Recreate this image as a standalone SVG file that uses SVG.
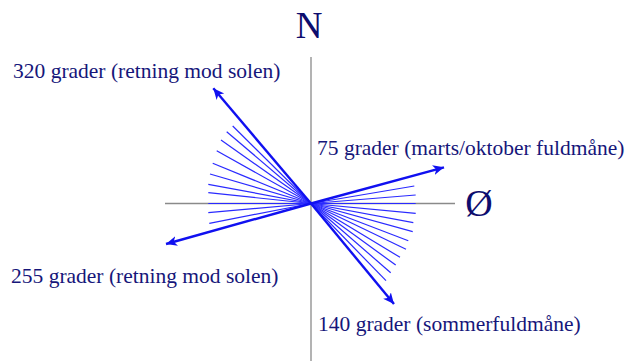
<svg xmlns="http://www.w3.org/2000/svg" width="628" height="361" viewBox="0 0 628 361">
<style>
.axis{stroke:#8a8a8a;stroke-width:1.3;fill:none}
.fan{stroke:#2a2aff;stroke-width:1.2;fill:none}
.arr{stroke:#1010f0;stroke-width:2.4;fill:none;marker-end:url(#ah)}
.lbl{font-family:"Liberation Serif","Times New Roman",serif;font-size:21.5px;fill:#16167a}
.dir{font-family:"Liberation Serif","Times New Roman",serif;fill:#0d0d6e}
</style>
<defs>
<marker id="ah" markerUnits="userSpaceOnUse" markerWidth="14" markerHeight="12" refX="11" refY="5" orient="auto">
<path d="M0,0 L11,5 L0,10 L3,5 z" fill="#1010f0"/>
</marker>
</defs>
<g id="axes">
<line class="axis" x1="311" y1="57" x2="311" y2="361"/>
<line class="axis" x1="165" y1="203.5" x2="455" y2="203.5"/>
</g>
<g id="fan">
<line class="fan" x1="311" y1="203.5" x2="232.7" y2="126"/>
<line class="fan" x1="311" y1="203.5" x2="226.7" y2="131.7"/>
<line class="fan" x1="311" y1="203.5" x2="221" y2="140"/>
<line class="fan" x1="311" y1="203.5" x2="216.7" y2="150.7"/>
<line class="fan" x1="311" y1="203.5" x2="212.7" y2="163.3"/>
<line class="fan" x1="311" y1="203.5" x2="210" y2="174"/>
<line class="fan" x1="311" y1="203.5" x2="208.3" y2="184.3"/>
<line class="fan" x1="311" y1="203.5" x2="208.3" y2="192.7"/>
<line class="fan" x1="311" y1="203.5" x2="208.3" y2="203.5"/>
<line class="fan" x1="311" y1="203.5" x2="208.3" y2="212.7"/>
<line class="fan" x1="311" y1="203.5" x2="209.3" y2="223.3"/>
<line class="fan" x1="311" y1="203.5" x2="414.3" y2="186"/>
<line class="fan" x1="311" y1="203.5" x2="415.7" y2="195"/>
<line class="fan" x1="311" y1="203.5" x2="415.7" y2="203.5"/>
<line class="fan" x1="311" y1="203.5" x2="415.7" y2="213.3"/>
<line class="fan" x1="311" y1="203.5" x2="413.3" y2="222.7"/>
<line class="fan" x1="311" y1="203.5" x2="412.7" y2="231.7"/>
<line class="fan" x1="311" y1="203.5" x2="408.3" y2="240.7"/>
<line class="fan" x1="311" y1="203.5" x2="406" y2="249.3"/>
<line class="fan" x1="311" y1="203.5" x2="400" y2="257.3"/>
<line class="fan" x1="311" y1="203.5" x2="395.7" y2="265"/>
<line class="fan" x1="311" y1="203.5" x2="390.7" y2="272.7"/>
<line class="fan" x1="311" y1="203.5" x2="386" y2="280.7"/>
</g>
<g id="connectors">
<line class="arr" x1="311" y1="203.5" x2="213.3" y2="88.3"/>
<line class="arr" x1="311" y1="203.5" x2="166" y2="244"/>
<line class="arr" x1="311" y1="203.5" x2="444" y2="167.3"/>
<line class="arr" x1="311" y1="203.5" x2="394" y2="304"/>
</g>
<g id="north"><text class="dir" x="309" y="38" font-size="37" text-anchor="middle">N</text></g>
<g id="east"><text class="dir" x="479" y="216" font-size="38" text-anchor="middle">Ø</text></g>
<g id="label-320"><text class="lbl" x="13" y="78">320 grader (retning mod solen)</text></g>
<g id="label-75"><text class="lbl" x="317" y="155">75 grader (marts/oktober fuldmåne)</text></g>
<g id="label-255"><text class="lbl" x="11" y="283">255 grader (retning mod solen)</text></g>
<g id="label-140"><text class="lbl" x="318" y="331">140 grader (sommerfuldmåne)</text></g>
</svg>
